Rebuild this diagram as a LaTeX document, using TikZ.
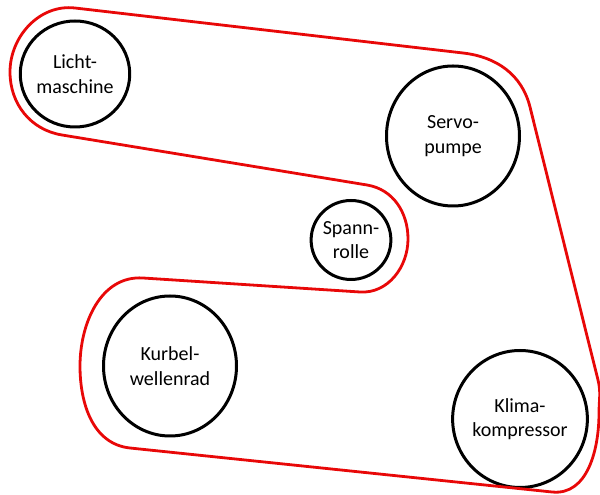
\documentclass[tikz,border=0pt]{standalone}
\usepackage{fontspec}
\setmainfont{Carlito}
\usetikzlibrary{shapes.geometric}
\definecolor{beltred}{RGB}{232,8,8}
\begin{document}
\begin{tikzpicture}[x=1pt,y=1pt,
  pulley/.style={draw=black, line width=3pt, ellipse, inner sep=0pt, align=center,
    font=\fontsize{20}{24.5}\selectfont},
  belt/.style={draw=beltred, line width=2.8pt, line join=round, line cap=round}]
\useasboundingbox (0,0) rectangle (600,495);
% pulleys
\node[pulley, minimum width=100pt, minimum height=106pt] (licht) at (75,421) {Licht-\\maschine};
\node[pulley, minimum width=74pt, minimum height=79pt] (spann) at (351,255) {Spann-\\rolle};
\node[pulley, minimum width=133pt, minimum height=140pt] (servo) at (453,359) {Servo-\\pumpe};
\node[pulley, minimum width=133pt, minimum height=140pt] (kurbel) at (170,129) {Kurbel-\\wellenrad};
\node[pulley, minimum width=133pt, minimum height=137pt] (klima) at (520,76) {Klima-\\kompressor};
% belt points
\coordinate (A1) at (75,487);
\coordinate (A2) at (463,442);
\coordinate (A3) at (530,388);
\coordinate (A4) at (598,115);
\coordinate (M) at (599,82);
\coordinate (A5) at (552,3);
\coordinate (A6) at (130,47);
\coordinate (KL) at (80,129);
\coordinate (A7) at (143,217);
\coordinate (A8) at (360,203);
\coordinate (SR) at (408,256);
\coordinate (A9) at (367,310);
\coordinate (A10) at (62,360);
\coordinate (LL) at (10,423);
\draw[belt] (A1) -- (A2) to[out=-6.6,in=104] (A3) -- (A4)
  to[out=-76,in=90] (M) to[out=-90,in=-5.95] (A5) -- (A6)
  to[out=174,in=-90] (KL) to[out=90,in=176.3] (A7) -- (A8)
  to[out=-3.7,in=-90] (SR) to[out=90,in=-9.3] (A9) -- (A10)
  to[out=170.7,in=-90] (LL) to[out=90,in=173.4] (A1) -- cycle;
\end{tikzpicture}
\end{document}
